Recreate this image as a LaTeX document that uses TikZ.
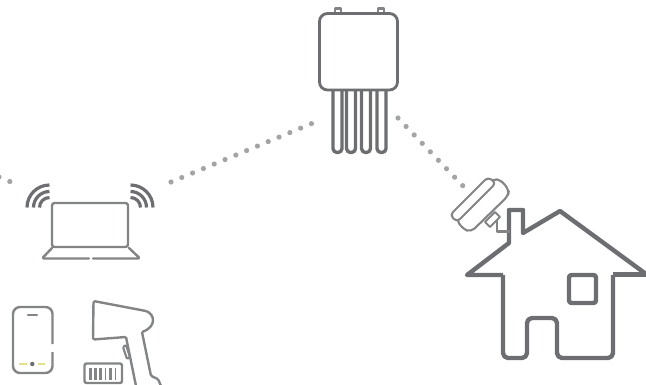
\documentclass[tikz,border=0pt]{standalone}
\definecolor{icongray}{HTML}{6D6E71}
\definecolor{dotgray}{HTML}{A3A4A6}
\definecolor{phoneyellow}{HTML}{E3E38C}
\tikzset{
  heavy/.style={draw=icongray, line width=4.4pt, line join=round},
  medium/.style={draw=icongray, line width=2.8pt, line join=round},
  fine/.style={draw=icongray!85, line width=2.1pt, line join=round},
  dotlink/.style={draw=dotgray, line width=5.2pt, line cap=round, dash pattern=on 0pt off 11.7pt},
}
\begin{document}
\begin{tikzpicture}[x=1pt, y=-1pt]
  \useasboundingbox (0,0) rectangle (646,384);
  % Dotted links
  \coordinate (lnkA) at (-1,177);
  \coordinate (lnkB) at (11,182);
  \coordinate (lnkC) at (171,182);
  \coordinate (lnkD) at (313,123);
  \coordinate (lnkE) at (398,118);
  \coordinate (lnkF) at (464,187);
  \draw[dotlink] (lnkA) -- (lnkB);
  \draw[dotlink] (lnkC) -- (lnkD);
  \draw[dotlink] (lnkE) -- (lnkF);
  % Box with prongs
  \foreach \x in {337.5,351,366,381.5} {
      \draw[heavy, line width=3.4pt, rounded corners=4pt] (\x-4.5,90) -- (\x-4.5,152.5) -- (\x+4.5,152.5) -- (\x+4.5,90);
  }
  \foreach \x in {338,381} {
      \draw[fine] (\x-3,13) -- (\x-3,8.5) -- (\x+3,8.5) -- (\x+3,13);
  }
  \draw[medium, rounded corners=8pt, fill=white] (319.5,13.5) rectangle (397.5,90);
  % Laptop
  \draw[fine, line width=2.4pt, rounded corners=2.5pt] (52,247) -- (52,203) -- (128,203) -- (128,247) -- cycle;
  \draw[fine, line width=2.4pt, line cap=round, rounded corners=1.5pt] (89,258.5) -- (42,258.5) -- (52,248);
  \draw[fine, line width=2.4pt, line cap=round, rounded corners=1.5pt] (93,258.5) -- (140,258.5) -- (129,248);
  % Signal arcs
  \foreach \r in {10,16,22.5} {
      \draw[medium, line width=3.2pt] (49.5,207.5-\r) arc[start angle=270, end angle=180, radius=\r];
      \draw[medium, line width=3.2pt] (130.5,207.5-\r) arc[start angle=270, end angle=360, radius=\r];
  }
  % Phone
  \draw[fine, line width=2.4pt, rounded corners=7pt] (52.5,344) -- (52.5,307) -- (13,307) -- (13,373) -- (52.5,373) -- (52.5,352);
  \draw[fine, line cap=round] (28,315) -- (37,315);
  \draw[phoneyellow, line width=2.2pt] (19,364) -- (27,364);
  \draw[phoneyellow, line width=2.2pt] (38,364) -- (45,364);
  \fill[icongray] (32.3,364) circle (2.2pt);
  % Scanner
  \draw[fine, line width=2.4pt, rounded corners=2pt] (126,337) -- (93,339.5) -- (93.5,301) -- (146,311);
  \draw[fine, line width=2.4pt] (146,311) .. controls (155,314) and (157,327) .. (142,332);
  \draw[fine, line width=2.4pt, rounded corners=1.5pt] (142,332) -- (151,376) -- (158,379) -- (161,386);
  \draw[fine, line width=2.4pt, rounded corners=1.5pt] (126,337) -- (136,386);
  \draw[fine, rounded corners=1pt] (123,347) -- (126,345) -- (130,357) -- (127,359) -- cycle;
  % Barcode
  \draw[fine, line width=2.4pt, rounded corners=2pt] (84.5,363.5) rectangle (122,383);
  \foreach \x/\w in {90/3,95.5/3,100.5/3,105.5/1.8,110.5/3,115.5/1.8} {
      \draw[icongray!85, line width=\w pt] (\x,368) -- (\x,380);
  }
  % House
  \draw[heavy] (646,274) -- (560,211) -- (523,233) -- (523,210) -- (509,210) -- (509,243) -- (467,275) -- (503,275);
  \draw[heavy, rounded corners=5pt] (503,275) -- (503,358) -- (527,358) -- (527,318) -- (557,318) -- (557,358) -- (613,358) -- (613,275);
  \draw[heavy] (613,274.5) -- (646,274.5);
  \draw[heavy, rounded corners=2.5pt] (569,275) rectangle (596,303);
  % Dish on chimney
  \draw[fine] (497,218) -- (497,231.5) -- (510,231.5);
  \draw[fine, fill=white] (485,222) -- (495,212) -- (500,217) -- (490,227) -- cycle;
  \draw[fine, rounded corners=5pt, fill=white] (493,179) -- (501,180) -- (509,190) -- (508,196) -- (471,232) -- (463,229) -- (456,219) -- cycle;
  \draw[fine, rounded corners=4pt, fill=white] (450,215) -- (488,177) -- (496,183) -- (457,222) -- cycle;
\end{tikzpicture}
\end{document}
